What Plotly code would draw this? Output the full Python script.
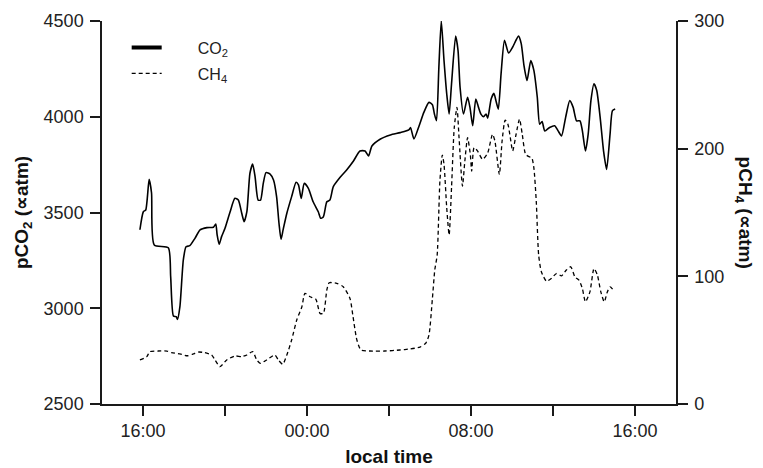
import plotly.graph_objects as go

D1 = "2000-01-01 "
D2 = "2000-01-02 "

co2_time = [D1 + t for t in [
    "15:51", "16:01", "16:08", "16:18", "16:25", "16:33", "17:14", "17:21", "17:29", "17:37",
    "17:41", "17:48", "17:58", "18:06", "18:17", "18:32", "18:47", "19:07", "19:26", "19:33",
    "19:37", "19:43", "19:50", "20:00", "20:15", "20:29", "20:39", "20:49", "20:56", "21:04",
    "21:13", "21:21", "21:28", "21:37", "21:44", "21:52", "22:00", "22:12", "22:22", "22:31",
    "22:38", "22:44", "22:50", "23:01", "23:15", "23:28", "23:35", "23:43", "23:52"]] + [D2 + t for t in [
    "00:04", "00:18", "00:33", "00:40", "00:48", "00:58", "01:07", "01:17", "01:37", "01:56",
    "02:16", "02:35", "02:50", "03:00", "03:10", "03:35", "04:04", "04:33", "04:58", "05:03",
    "05:13", "05:28", "05:42", "05:57", "06:07", "06:13", "06:19", "06:26", "06:33", "06:41",
    "06:49", "06:56", "07:03", "07:15", "07:22", "07:28", "07:38", "07:50", "07:57", "08:05",
    "08:14", "08:22", "08:29", "08:37", "08:44", "08:49", "08:59", "09:07", "09:13", "09:20",
    "09:28", "09:38", "09:50", "10:02", "10:19", "10:27", "10:35", "10:44", "10:55", "11:04",
    "11:14", "11:21", "11:28", "11:36", "11:50", "12:05", "12:15", "12:25", "12:37", "12:49",
    "12:59", "13:09", "13:19", "13:26", "13:35", "13:43", "13:51", "14:00", "14:08", "14:18",
    "14:28", "14:37", "14:47", "14:54", "15:02"]]

co2_values = [
    3410, 3504, 3513, 3673, 3602, 3330, 3316, 3165, 2960, 2956,
    2942, 3008, 3252, 3321, 3327, 3365, 3409, 3421, 3423, 3440,
    3383, 3334, 3374, 3418, 3504, 3574, 3565, 3496, 3452, 3504,
    3705, 3753, 3687, 3565, 3565, 3652, 3708, 3701, 3670, 3583,
    3444, 3360, 3409, 3496, 3583, 3658, 3644, 3574, 3652,
    3626, 3556, 3504, 3470, 3478, 3556, 3565, 3635, 3684, 3722,
    3769, 3821, 3821, 3795, 3847, 3884, 3905, 3917, 3931, 3944,
    3884, 3952, 4023, 4075, 4063, 4014, 3979, 4260, 4500, 4294,
    4119, 4014, 4171, 4421, 4347, 4154, 4014, 4102, 4049, 3953,
    4093, 4049, 4014, 4000, 4014, 3993, 4093, 4122, 4084, 4040,
    4224, 4399, 4333, 4364, 4421, 4382, 4268, 4189, 4294, 4242,
    4102, 3961, 3975, 3926, 3944, 3953, 3926, 3900, 3997, 4084,
    4049, 3979, 3979, 3926, 3821, 3909, 4084, 4172, 4137, 3997,
    3821, 3725, 3909, 4032, 4040]

ch4_time = [D1 + t for t in [
    "15:51", "16:11", "16:20", "16:45", "17:10", "17:24", "17:48", "18:10", "18:27", "18:42",
    "19:01", "19:21", "19:31", "19:45", "20:05", "20:29", "20:49", "21:04", "21:21", "21:33",
    "21:43", "22:02", "22:26", "22:36", "22:49", "23:01", "23:15", "23:30", "23:45", "23:54"]] + [D2 + t for t in [
    "00:09", "00:26", "00:38", "00:48", "00:58", "01:05", "01:27", "01:46", "02:06", "02:14",
    "02:26", "02:38", "03:04", "03:48", "04:32", "05:01", "05:31", "05:48", "05:57", "06:07",
    "06:14", "06:21", "06:29", "06:36", "06:41", "06:49", "06:56", "07:03", "07:11", "07:19",
    "07:25", "07:35", "07:42", "07:50", "07:58", "08:02", "08:09", "08:19", "08:34", "08:49",
    "09:03", "09:10", "09:23", "09:31", "09:40", "09:48", "09:55", "10:02", "10:12", "10:22",
    "10:30", "10:40", "10:52", "10:58", "11:04", "11:11", "11:18", "11:26", "11:41", "11:55",
    "12:10", "12:25", "12:39", "12:52", "13:04", "13:16", "13:26", "13:35", "13:48", "14:00",
    "14:10", "14:20", "14:30", "14:39", "14:47", "14:57"]]

ch4_values = [
    34.5, 37.1, 41.0, 41.5, 41.5, 40.2, 39.2, 37.8, 39.2, 40.7,
    40.2, 38.4, 34.5, 29.2, 34.5, 37.6, 37.1, 38.4, 41.0, 34.5,
    31.9, 34.5, 38.4, 34.5, 31.1, 38.4, 50.1, 65.8, 76.2, 86.7,
    84.0, 82.0, 71.0, 71.0, 89.3, 95.0, 94.5, 91.9, 82.5, 69.7,
    50.1, 42.3, 41.5, 41.5, 42.3, 43.1, 44.6, 47.8, 54.0, 82.5,
    105.0, 116.7, 174.7, 195.0, 187.7, 153.5, 132.4, 169.2, 216.6, 232.3,
    208.7, 170.6, 190.3, 208.7, 195.5, 182.4, 200.8, 198.2, 191.6, 196.8,
    211.3, 206.0, 179.8, 206.0, 222.4, 219.2, 208.7, 198.2, 211.3, 223.2,
    211.3, 195.5, 193.5, 192.9, 185.0, 158.8, 116.7, 103.6, 96.2, 98.3,
    102.2, 100.4, 104.9, 107.5, 99.6, 97.0, 90.4, 80.0, 87.8, 106.1,
    100.9, 87.8, 80.0, 87.8, 91.7, 89.1]

x_tickvals = [D1 + "16:00", D1 + "20:00", D2 + "00:00", D2 + "04:00",
              D2 + "08:00", D2 + "12:00", D2 + "16:00"]
x_ticktext = ["16:00", "", "00:00", "", "08:00", "", "16:00"]
x_range = [D1 + "14:00", D2 + "18:00"]

co2_ticks = [2500, 3000, 3500, 4000, 4500]
ch4_ticks = [0, 100, 200, 300]

FONT = "Liberation Sans, Arial, sans-serif"
AX = "#1a1a1a"
NB = "\u00a0"

fig = go.Figure()
fig.add_trace(go.Scatter(
    x=co2_time, y=co2_values, mode="lines", showlegend=False,
    line=dict(color="black", width=1.6, shape="spline", smoothing=0.6)))
fig.add_trace(go.Scatter(
    x=ch4_time, y=ch4_values, mode="lines", yaxis="y2", showlegend=False,
    line=dict(color="black", width=1.3, dash="4px,3px", shape="spline", smoothing=0.6)))
# legend entries
fig.add_trace(go.Scatter(x=[None], y=[None], mode="lines", name=NB * 7 + "CO<sub>2</sub>",
                         legendgroup="a", line=dict(color="black", width=4)))
fig.add_trace(go.Scatter(x=[None], y=[None], mode="lines", name=NB * 7 + "CH<sub>4</sub>",
                         legendgroup="b", line=dict(color="black", width=1.3, dash="4px,3px")))

axis_common = dict(showgrid=False, zeroline=False, showline=True, linecolor=AX, linewidth=1.5,
                   ticks="outside", ticklen=10, tickwidth=1.5, tickcolor=AX, automargin=False,
                   tickfont=dict(size=18, color="#222"))

fig.update_layout(
    width=763, height=468,
    margin=dict(l=102, r=87, t=21, b=64, autoexpand=False),
    plot_bgcolor="white", paper_bgcolor="white",
    font=dict(family=FONT, size=15, color="#222"),
    xaxis=dict(
        type="date", range=x_range, tickvals=x_tickvals, ticktext=x_ticktext,
        title=dict(text="<b>local time</b>", font=dict(size=19, color="#111"), standoff=9),
        **axis_common,
    ),
    yaxis=dict(
        range=[2500, 4500], tickvals=co2_ticks, ticklabelstandoff=3,
        title=dict(text="<b>pCO<sub>2</sub> (∝atm)</b>", font=dict(size=19, color="#111"), standoff=10),
        **axis_common,
    ),
    yaxis2=dict(
        range=[0, 300], tickvals=ch4_ticks, overlaying="y", side="right", ticklabelstandoff=3,
        **axis_common,
    ),
    legend=dict(x=0.043, y=0.975, xanchor="left", yanchor="top",
                bgcolor="rgba(0,0,0,0)", font=dict(size=16, color="#222"),
                tracegroupgap=2),
    annotations=[dict(
        text="<b>pCH<sub>4</sub> (∝atm)</b>", textangle=90, xref="paper", yref="paper",
        x=1.12, y=0.5, xanchor="center", yanchor="middle", showarrow=False,
        font=dict(size=19, color="#111"))],
)

fig.write_html("out.html", config={"displayModeBar": False},
               post_script="document.body.style.margin='0px';")
